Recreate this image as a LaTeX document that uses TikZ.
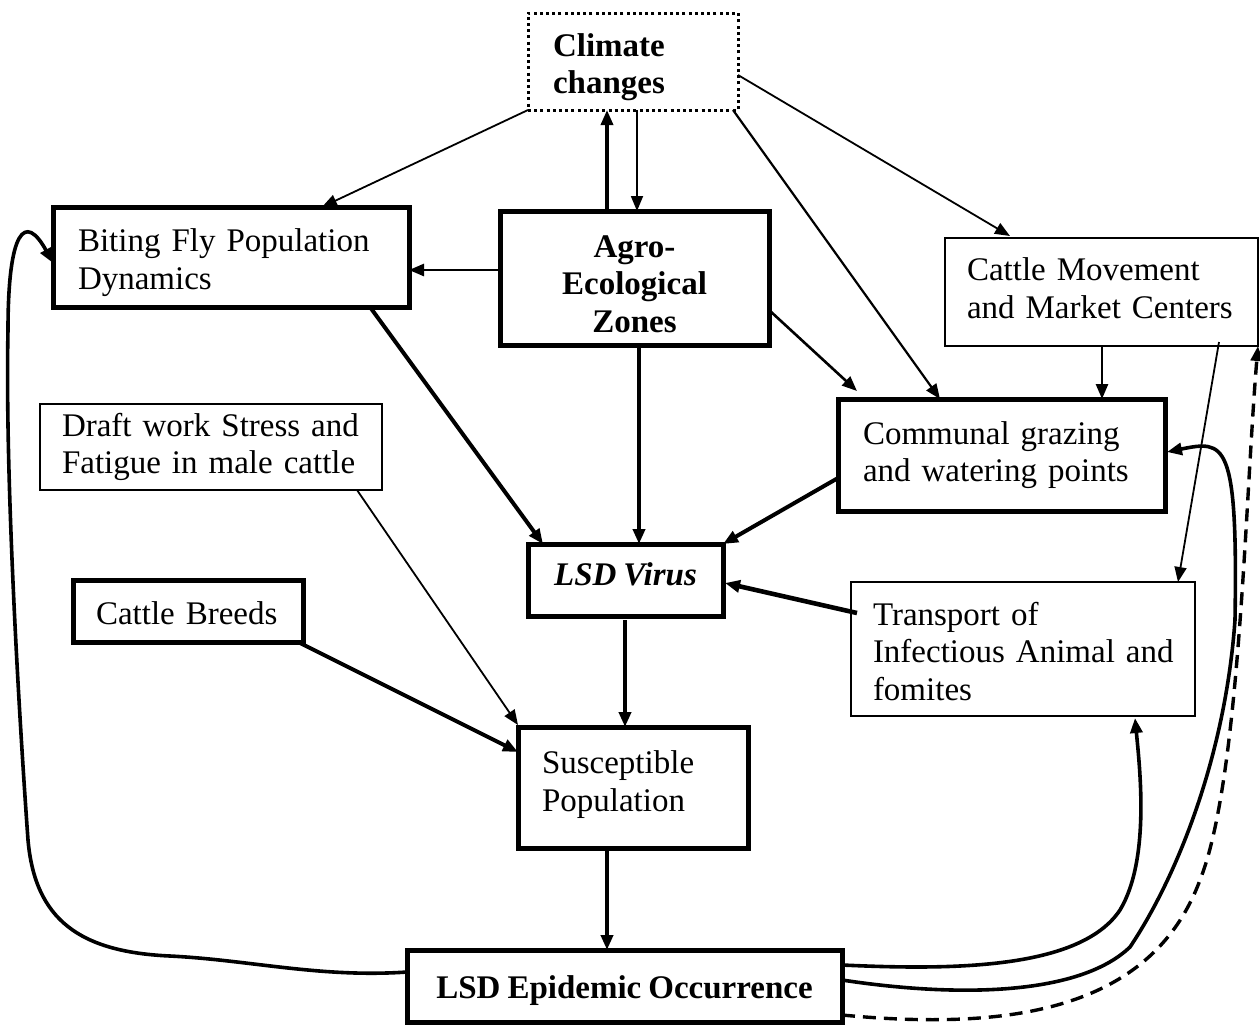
\documentclass[tikz,border=0pt]{standalone}
\usepackage{fontspec}
\setmainfont{Liberation Serif}[WordSpace=0.85]
\usetikzlibrary{arrows.meta,calc}
\newcommand\Lx[1]{\mbox{#1}}
\newcommand\UpS{\rule{0pt}{17pt}}
\begin{document}
\begin{tikzpicture}[x=0.5pt,y=-0.5pt,
  txt/.style={font=\fontsize{16.5}{18.75}\selectfont},
  btxt/.style={font=\fontsize{16.5}{18.75}\selectfont\bfseries},
  bitxt/.style={font=\fontsize{16.5}{18.75}\selectfont\bfseries\itshape},
  bx/.style={draw, inner sep=0pt, outer sep=0pt},
  thickbox/.style={bx, line width=2.5pt},
  thinbox/.style={bx, line width=0.9pt},
  dotbox/.style={bx, line width=1.5pt, dash pattern=on 1.5pt off 1.6pt},
  lsz/.style n args={3}{minimum width=#1pt, minimum height=#2pt, text width=#3pt, align=left},
  csz/.style 2 args={minimum width=#1pt, minimum height=#2pt, align=center},
  arr/.style={-{Triangle[length=7.5pt,width=6pt]}},
  thinarr/.style={arr, line width=0.9pt},
  medarr/.style={arr, line width=1.3pt},
  thkarr/.style={arr, line width=2pt},
  dasharr/.style={arr, line width=1.7pt, dash pattern=on 6.5pt off 4pt}
]
\useasboundingbox (0,0) rectangle (1260,1025);

% boxes
\node[dotbox, btxt, lsz={105}{48.5}{80}] (climate) at (633,61.5) {\Lx{\UpS Climate}\\\Lx{changes}};
\node[thickbox, txt, lsz={178}{50}{153}] (fly) at (231,257) {\Lx{\UpS Biting Fly Population}\\\Lx{Dynamics}};
\node[thickbox, btxt, csz={134.5}{67}] (agro) at (634.5,278) {\UpS Agro-\\Ecological\\Zones};
\node[thinbox, txt, lsz={156.5}{54}{134.5}] (cattle) at (1101.5,292) {\Lx{Cattle Movement}\\\Lx{and Market Centers\rule[-4pt]{0pt}{0pt}}};
\node[thinbox, txt, lsz={171}{43}{149}] (draft) at (211,447) {\Lx{Draft work Stress and}\\\Lx{Fatigue in male cattle}};
\node[thickbox, txt, lsz={163.5}{56}{138.5}] (communal) at (1001.5,455) {\Lx{Communal grazing}\\\Lx{and watering points}};
\node[thickbox, bitxt, csz={97.5}{36}] (virus) at (625.5,580) {LSD Virus\rule[-6pt]{0pt}{0pt}};
\node[thinbox, txt, lsz={172}{67}{150}] (transport) at (1023,649) {\Lx{\rule{0pt}{14pt}Transport of}\\\Lx{Infectious Animal and}\\\Lx{fomites}};
\node[thickbox, txt, lsz={115}{31}{92}] (breeds) at (188,611) {\Lx{\rule{0pt}{14pt}Cattle Breeds}};
\node[thickbox, txt, lsz={115}{60.5}{91}] (suscept) at (633,787.5) {\Lx{Susceptible}\\\Lx{Population\rule[-6.5pt]{0pt}{0pt}}};
\node[thickbox, btxt, csz={217.5}{36}] (epidemic) at (624.5,986) {\rule{0pt}{16pt}LSD Epidemic Occurrence};

% straight connectors
\draw[thinarr] (climate.south west) -- ($(fly.north west)+(269,0)$);
\draw[thkarr, line width=1.7pt] ($(agro.north west)+(107,0)$) -- ($(climate.south west)+(79,0)$);
\draw[thinarr] ($(climate.south west)+(109,0)$) -- ($(agro.north west)+(137,0)$);
\draw[thinarr] ($(climate.north east)+(0,62)$) -- ($(cattle.north west)+(65,-2)$);
\draw[thinarr, line width=1.1pt] ($(climate.south east)+(-5,0)$) -- ($(communal.north west)+(102,0)$);
\draw[medarr] ($(agro.north west)+(0,59)$) -- ($(fly.north east)+(0,63)$);
\draw[medarr] ($(agro.north east)+(0,99)$) -- ($(communal.north west)+(19,-8)$);
\draw[thkarr] ($(agro.south west)+(139,0)$) -- ($(virus.north west)+(111,0)$);
\draw[thkarr] ($(fly.south west)+(317,0)$) -- ($(virus.north west)+(15,0)$);
\draw[medarr] ($(cattle.south west)+(157,0)$) -- ($(communal.north west)+(264,0)$);
\draw[thinarr] ($(cattle.south west)+(274,-4)$) -- ($(transport.north west)+(327,0)$);
\draw[thkarr] ($(communal.north west)+(0,79)$) -- (virus.north east);
\draw[thkarr, line width=2.3pt] ($(transport.north west)+(6,31)$) -- ($(virus.north east)+(2,39)$);
\draw[thinarr] ($(draft.south east)+(-25,0)$) -- ($(suscept.north west)+(0,-2)$);
\draw[thkarr] ($(breeds.south east)+(-5,0)$) -- ($(suscept.north west)+(0,25)$);
\draw[thkarr] ($(virus.south west)+(97,4)$) -- ($(suscept.north west)+(107,0)$);
\draw[thkarr] ($(suscept.south west)+(89,0)$) -- ($(epidemic.north west)+(200,0)$);

% feedback curves
\draw[thkarr, line width=1.8pt] ($(epidemic.north west)+(0,22)$)
  .. controls (320,978) and (250,960) .. (170,956)
  .. controls (80,952) and (35,920) .. (28,840)
  .. controls (18,700) and (5,470) .. (8,330)
  .. controls (8,230) and (25,212) .. ($(fly.north west)+(0,56)$);
\draw[thkarr, line width=1.8pt] ($(epidemic.north east)+(0,15)$)
  .. controls (950,970) and (1080,970) .. (1120,910)
  .. controls (1150,860) and (1140,770) .. ($(transport.south west)+(284,2)$);
\draw[thkarr, line width=1.8pt] ($(epidemic.north east)+(0,30)$)
  .. controls (960,998) and (1080,995) .. (1130,947)
  .. controls (1175,880) and (1225,760) .. (1235,620)
  .. controls (1238,440) and (1225,440) .. ($(communal.north east)+(2,53)$);
\draw[dasharr] ($(epidemic.north east)+(0,65)$)
  .. controls (1000,1030) and (1150,1015) .. (1200,880)
  .. controls (1240,780) and (1245,500) .. (cattle.south east);
\end{tikzpicture}
\end{document}
